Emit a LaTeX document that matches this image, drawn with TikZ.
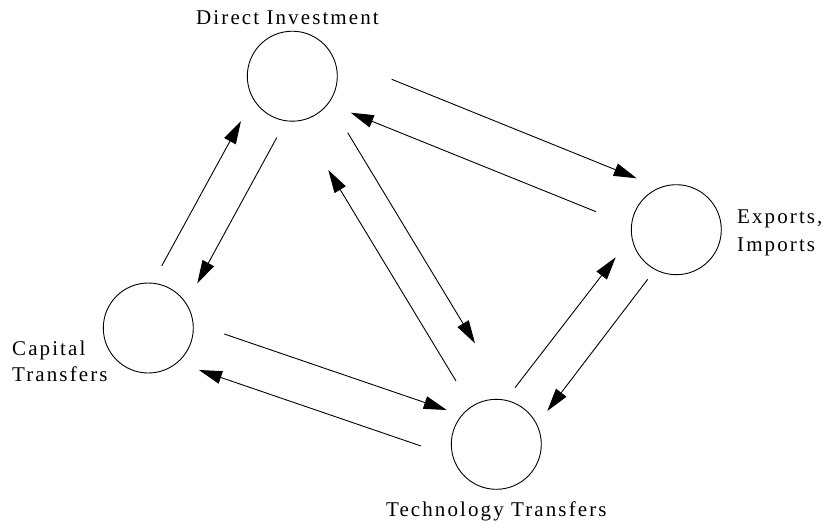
\documentclass[tikz,border=0pt]{standalone}
\usepackage{fontspec}
\setmainfont{Liberation Serif}[LetterSpace=10]
\usetikzlibrary{arrows.meta}
\begin{document}
\begin{tikzpicture}[x=1pt,y=-1pt,
  hub/.style={circle,draw,line width=0.9pt,minimum size=90pt,inner sep=0pt},
  flow/.style={line width=0.9pt,-{Triangle[length=23pt,width=13pt]}},
  lbl/.style={font=\fontsize{21}{28}\selectfont,inner sep=0pt,align=left}]
\useasboundingbox (0,0) rectangle (829,524);

% the four sectors
\node[hub] (di)  at (292.3,76.2)  {};
\node[hub] (ex)  at (676.3,229.7) {};
\node[hub] (cap) at (148.3,328)   {};
\node[hub] (tec) at (496.3,444.3) {};

% labels
\node[lbl,anchor=base] at (287.5,25) {Direct Investment};
\node[lbl,anchor=base west] at (737,223) {Exports,};
\node[lbl,anchor=base west] at (737,251.7) {Imports};
\node[lbl,anchor=base west] at (12,355) {Capital};
\node[lbl,anchor=base west] at (12,381.7) {Transfers};
\node[lbl,anchor=base] at (496.3,516.7) {Technology Transfers};

% end points of the flows
\coordinate (capA) at (161.7,266);   \coordinate (diA) at (241,121);
\coordinate (diB)  at (276.7,137.7); \coordinate (capB) at (197.3,283.3);
\coordinate (diC)  at (391.7,79.3);  \coordinate (exC) at (636.7,178.3);
\coordinate (exD)  at (596,211.7);   \coordinate (diD) at (350.7,112.7);
\coordinate (diE)  at (347.7,132.7); \coordinate (tecE) at (475,343.3);
\coordinate (tecF) at (456,381);     \coordinate (diF) at (328.3,170);
\coordinate (capG) at (224.3,334);   \coordinate (tecG) at (446.7,410);
\coordinate (tecH) at (421,446);     \coordinate (capH) at (199,370);
\coordinate (tecI) at (515,387.7);   \coordinate (exI) at (615.7,257.3);
\coordinate (exJ)  at (647.7,279.3); \coordinate (tecJ) at (547.3,411);

% flows
\draw[flow] (capA) -- (diA);
\draw[flow] (diB) -- (capB);
\draw[flow] (diC) -- (exC);
\draw[flow] (exD) -- (diD);
\draw[flow] (diE) -- (tecE);
\draw[flow] (tecF) -- (diF);
\draw[flow] (capG) -- (tecG);
\draw[flow] (tecH) -- (capH);
\draw[flow] (tecI) -- (exI);
\draw[flow] (exJ) -- (tecJ);
\end{tikzpicture}
\end{document}
